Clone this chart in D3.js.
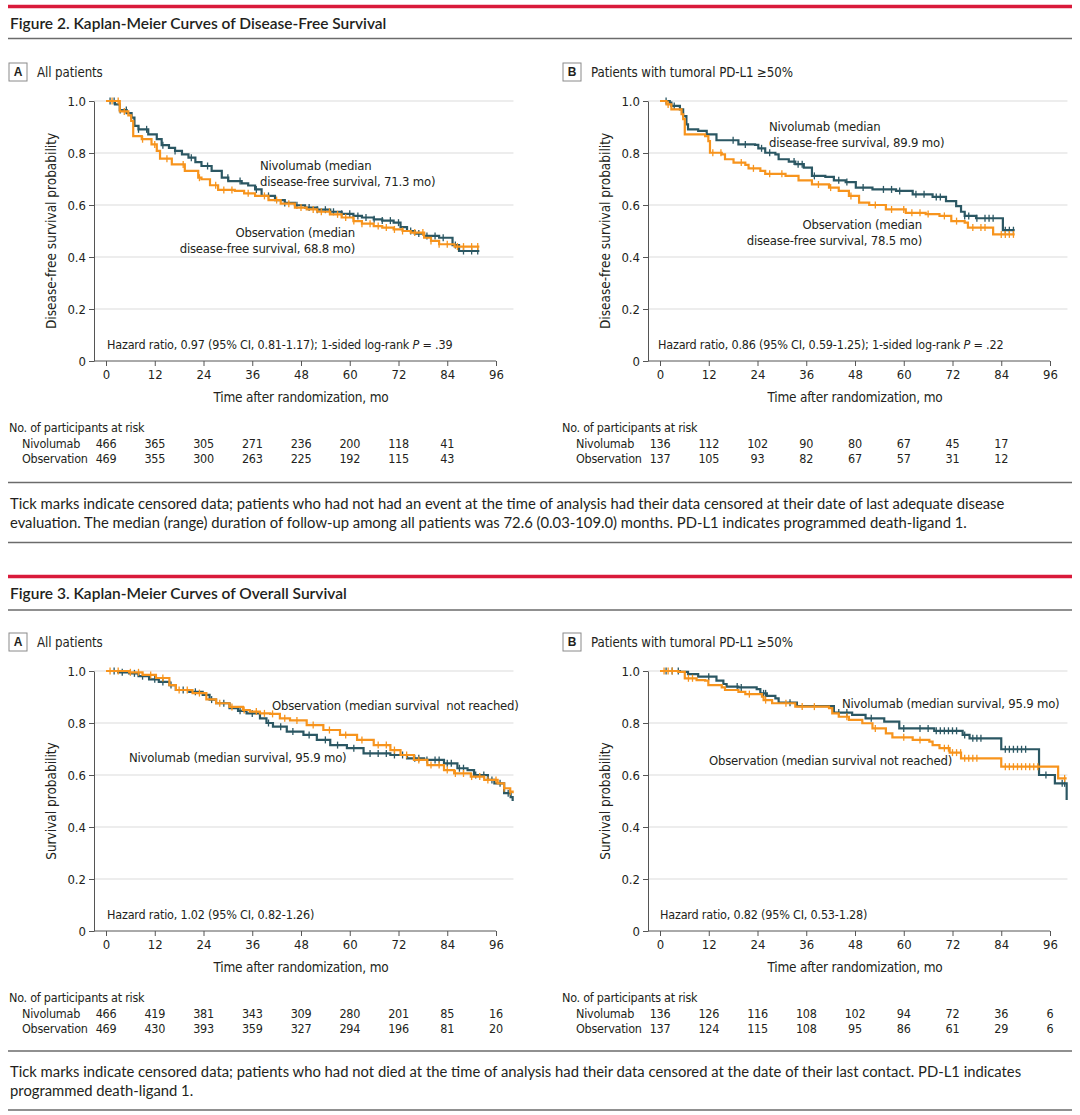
<!DOCTYPE html>
<html><head><meta charset="utf-8">
<script src="https://cdn.jsdelivr.net/npm/d3@7"></script>
<style>body{margin:0;background:#fff} svg{display:block}</style>
</head><body>
<svg id="c" width="1080" height="1115"></svg>
<script>
// ---------------- DATA ----------------
const xTicks = [0, 12, 24, 36, 48, 60, 72, 84, 96];
const yTicks = [0, 0.2, 0.4, 0.6, 0.8, 1.0];
const seriesNames = ["Nivolumab", "Observation"];

// Figure 2A – disease-free survival, all patients  [month, survival]
const dfsAllNivo = [[0,1],[2.2,0.987],[3.4,0.965],[5.1,0.953],[6.3,0.936],[7.0,0.904],[8.0,0.891],[10.4,0.872],[12.5,0.853],[13.7,0.83],[15.5,0.82],[17.0,0.808],[18.7,0.795],[20.3,0.782],[22,0.765],[23.5,0.75],[26.0,0.731],[28.5,0.705],[30.1,0.692],[33.4,0.683],[35,0.675],[36.7,0.66],[38.3,0.635],[41.6,0.619],[44,0.608],[46.5,0.599],[49.0,0.59],[52,0.582],[55.2,0.574],[58,0.566],[60.9,0.558],[63,0.552],[65.9,0.545],[68,0.54],[70.8,0.532],[72.5,0.515],[74.1,0.50],[76,0.49],[78.3,0.481],[82,0.474],[85.3,0.446],[86.9,0.423],[91.9,0.423]];
const dfsAllObs = [[0,1],[3.4,0.96],[5.5,0.945],[6.2,0.923],[6.7,0.865],[8.8,0.853],[11.2,0.833],[12.5,0.808],[13.3,0.778],[16.2,0.756],[19.4,0.731],[22.7,0.705],[23.5,0.699],[25.6,0.676],[27.6,0.658],[31.7,0.654],[34,0.645],[36.7,0.635],[40.0,0.619],[43,0.605],[46.5,0.59],[49.4,0.583],[52,0.574],[55.2,0.564],[58,0.552],[60.9,0.538],[63,0.528],[65.9,0.519],[68,0.513],[70.8,0.506],[73,0.5],[75.0,0.494],[78.3,0.474],[80,0.462],[82.0,0.449],[85.8,0.44],[91.9,0.44]];
const dfsAllNivoCens = [1,2,3.5,5,8,10,14,17,21,25,30,33,37,40,44,47,50,52,54,56,58,60,62,64,66,68,70,72,75,77,79,81,83,86,88,90,91.5];
const dfsAllObsCens = [1.5,3,4.5,9,12,15,19,23,27,29,31,35,39,42,45,48,51,53,55,57,59,61,63,65,67,69,71,73,76,78,80,82,84,86.5,88,90,91.5];

// Figure 2B – disease-free survival, PD-L1 >=50%
const dfsPdNivo = [[0,1],[2.4,0.994],[2.8,0.981],[4.9,0.968],[5.7,0.942],[6.5,0.910],[6.9,0.891],[9.4,0.885],[11.5,0.872],[13.9,0.849],[19.3,0.833],[23.4,0.831],[24.2,0.818],[25.9,0.801],[28.4,0.795],[29.2,0.776],[31.7,0.767],[33.3,0.757],[35.4,0.744],[37.4,0.712],[40.7,0.708],[42.8,0.695],[45.7,0.688],[48.2,0.667],[52.3,0.660],[58.1,0.654],[62.2,0.641],[67.1,0.631],[70.4,0.615],[72.9,0.596],[74.1,0.574],[75.0,0.558],[77.8,0.549],[84.4,0.503],[87.3,0.503]];
const dfsPdObs = [[0,1],[1.6,0.987],[2.8,0.968],[5.3,0.949],[5.7,0.930],[6.1,0.872],[11.1,0.865],[11.9,0.846],[12.3,0.801],[15.2,0.795],[16.0,0.776],[18.1,0.763],[21.0,0.754],[21.8,0.741],[24.7,0.731],[25.9,0.720],[30.9,0.712],[34.1,0.695],[37.4,0.679],[41.6,0.667],[44.0,0.654],[46.5,0.635],[49.0,0.609],[51.5,0.60],[55.6,0.583],[60.5,0.570],[65.4,0.565],[68.8,0.558],[71.7,0.538],[75.0,0.532],[75.8,0.513],[82.0,0.487],[87.3,0.487]];
const dfsPdNivoCens = [1.5,3.5,18,21,25,27,33,34,35,38,44,46,50,55,57,59,63,65,68,69,75,76,78,80,81,82,85,86,87];
const dfsPdObsCens = [2,13,15,20,23,27,30,39,42,47,53,57,60,62,64,66,70,73,77,79,80,84,85,86,87];

// Figure 3A – overall survival, all patients
const osAllNivo = [[0,1],[3,0.995],[5.7,0.991],[8,0.98],[10.6,0.968],[13,0.958],[15.6,0.946],[17.2,0.927],[20.5,0.920],[23.8,0.908],[25.5,0.89],[27.1,0.876],[30.4,0.857],[32.5,0.847],[34.6,0.837],[37.9,0.818],[39.5,0.80],[41.1,0.786],[44.5,0.767],[48.6,0.754],[51.9,0.735],[55.2,0.715],[59.3,0.703],[63.4,0.683],[70.0,0.677],[74.1,0.664],[78.3,0.658],[83.2,0.645],[86.5,0.626],[89.0,0.619],[90.6,0.60],[94.0,0.581],[95.6,0.568],[98.0,0.53],[99.6,0.515],[100.1,0.50]];
const osAllObs = [[0,1],[5.7,0.995],[9.0,0.985],[12.3,0.973],[15.6,0.946],[17.2,0.927],[21.3,0.915],[24.7,0.891],[27.1,0.876],[30.4,0.862],[33.7,0.850],[35.4,0.844],[37.9,0.837],[40.4,0.835],[42.8,0.818],[45.3,0.810],[49.4,0.792],[53.5,0.773],[57.6,0.754],[61.8,0.735],[65.9,0.715],[70.0,0.696],[72.5,0.677],[75.8,0.658],[79.1,0.638],[83.2,0.619],[85.7,0.606],[89.8,0.594],[93.1,0.581],[96.4,0.568],[98.0,0.549],[99.5,0.536],[100.1,0.53]];
const osAllNivoCens = [2,4,7,9,12,14,16,19,22,26,29,33,36,40,43,46,50,54,57,61,65,67,69,71,73,76,77,79,81,82,84,85,87,88,91,93,95,97,99];
const osAllObsCens = [1,3,6,8,11,14,18,20,23,28,31,34,37,39,41,44,47,51,55,59,63,67,69,71,74,77,80,82,84,86,88,90,92,94,96,98,99.5];

// Figure 3B – overall survival, PD-L1 >=50%
const osPdNivo = [[0,1],[4.9,0.997],[6.9,0.988],[9.4,0.978],[13.9,0.963],[15.6,0.950],[16.4,0.940],[19.3,0.937],[23.8,0.930],[24.7,0.914],[26.3,0.904],[28.4,0.895],[29.2,0.878],[33.7,0.865],[42.8,0.840],[47.3,0.831],[50.6,0.818],[55.2,0.805],[58.9,0.779],[67.5,0.770],[74.5,0.754],[76.2,0.741],[84.0,0.699],[93.3,0.60],[97.2,0.568],[100.1,0.504]];
const osPdObs = [[0,1],[4.5,0.997],[6.1,0.972],[9.0,0.965],[11.1,0.963],[11.9,0.946],[15.2,0.937],[16.0,0.927],[19.3,0.920],[21.0,0.911],[25.1,0.901],[25.5,0.888],[27.6,0.876],[33.3,0.863],[41.6,0.857],[42.4,0.837],[44.0,0.824],[46.5,0.812],[49.8,0.799],[52.3,0.779],[55.6,0.760],[57.2,0.745],[62.2,0.735],[66.3,0.728],[67.1,0.715],[68.8,0.703],[71.3,0.686],[74.1,0.664],[84.0,0.632],[98.0,0.587],[100.1,0.587]];
const osPdNivoCens = [1.5,3,4.5,12,19,20,25.5,26,32,44,46,52,60,64,66,68,69,70,71,72,73,75,77,78,79,85,86,87,88,89,90,95,99,99.6];
const osPdObsCens = [1,2,3,7,8,22,26,31,35,38,46,53,60,64,70,71,72,73,74,75,76,77,78,85,86,87,88,89,90,91,92,93,99.6];

// Numbers at risk
const riskDfsAllNivo = [466,365,305,271,236,200,118,41];
const riskDfsAllObs  = [469,355,300,263,225,192,115,43];
const riskDfsPdNivo  = [136,112,102,90,80,67,45,17];
const riskDfsPdObs   = [137,105,93,82,67,57,31,12];
const riskOsAllNivo  = [466,419,381,343,309,280,201,85,16];
const riskOsAllObs   = [469,430,393,359,327,294,196,81,20];
const riskOsPdNivo   = [136,126,116,108,102,94,72,36,6];
const riskOsPdObs    = [137,124,115,108,95,86,61,29,6];

// ---------------- DRAWING ----------------
const svg = d3.select("#c");
const CF = "'Liberation Sans Narrow','DejaVu Sans Condensed','Arial Narrow',sans-serif";
const TF = "Lato,'Open Sans',sans-serif";
const TEAL = "#2b5763", ORANGE = "#f7941d", RED = "#d91a3b", TXT = "#231f20";

function hline(y, color, w) {
  svg.append("line").attr("x1", 8).attr("x2", 1072).attr("y1", y).attr("y2", y)
    .attr("stroke", color).attr("stroke-width", w);
}
function txt(x, y, s, opt = {}) {
  return svg.append("text").attr("x", x).attr("y", y).text(s)
    .attr("font-family", opt.font || CF).attr("font-size", opt.size || 12.5)
    .attr("letter-spacing", opt.ls != null ? opt.ls : (opt.font ? 0 : -0.25))
    .attr("font-weight", opt.weight || "normal").attr("fill", opt.fill || TXT)
    .attr("text-anchor", opt.anchor || "start").attr("dominant-baseline", "central");
}

function panel(cfg) {
  const x = d3.scaleLinear().domain([0, 96]).range([cfg.x0, cfg.x0 + 390]);
  const y = d3.scaleLinear().domain([0, 1]).range([cfg.yBot, cfg.yBot - 260]);
  const axisX = cfg.x0 - 12;
  const g = svg.append("g");

  // panel label
  g.append("rect").attr("x", cfg.lx).attr("y", cfg.ly - 9).attr("width", 18).attr("height", 18)
    .attr("fill", "#fff").attr("stroke", "#8a8a8a").attr("stroke-width", 1);
  txt(cfg.lx + 9, cfg.ly, cfg.letter, {size: 12, weight: "bold", anchor: "middle", font: "'Liberation Sans',Arial,sans-serif"});
  txt(cfg.lx + 28, cfg.ly, cfg.title, {size: 13.2, ls: -0.1});

  // gridlines
  g.selectAll("line.grid").data(yTicks.filter(d => d > 0)).join("line").attr("class", "grid")
    .attr("x1", axisX).attr("x2", x(100.3)).attr("y1", d => y(d)).attr("y2", d => y(d))
    .attr("stroke", "#dcdcdc").attr("stroke-width", 1.2);

  // y axis
  const ya = g.append("g").attr("transform", `translate(${axisX},0)`)
    .call(d3.axisLeft(y).tickValues(yTicks).tickFormat(d => d === 0 ? "0" : d3.format(".1f")(d)).tickSize(5).tickPadding(3).tickSizeOuter(0));
  // x axis
  const xa = g.append("g").attr("transform", `translate(0,${cfg.yBot})`)
    .call(d3.axisBottom(x).tickValues(xTicks).tickSize(5).tickPadding(4).tickSizeOuter(0));
  xa.select(".domain").remove();
  g.append("line").attr("x1", axisX).attr("x2", x(96)).attr("y1", cfg.yBot).attr("y2", cfg.yBot).attr("stroke", "#555");
  [ya, xa].forEach(a => {
    a.selectAll("path,line").attr("stroke", "#555");
    a.selectAll("text").attr("font-family", CF).attr("font-size", 13).attr("fill", TXT);
  });

  // axis titles
  txt((x(0) + x(96)) / 2, cfg.yBot + 36, "Time after randomization, mo", {size: 13.5, ls: -0.2, anchor: "middle"});
  g.append("text").attr("transform", `translate(${axisX - 43},${cfg.yBot - 130}) rotate(-90)`)
    .text(cfg.yTitle).attr("font-family", CF).attr("font-size", 13.5).attr("fill", TXT)
    .attr("text-anchor", "middle").attr("dominant-baseline", "central");

  // curves
  const line = d3.line().x(d => x(d[0])).y(d => y(d[1])).curve(d3.curveStepAfter);
  const bis = d3.bisector(d => d[0]).right;
  cfg.series.forEach(s => {
    g.append("path").datum(s.data).attr("d", line).attr("fill", "none")
      .attr("stroke", s.color).attr("stroke-width", 2.2).attr("stroke-linejoin", "miter");
    g.selectAll(null).data(s.cens).join("line")
      .attr("x1", t => x(t)).attr("x2", t => x(t))
      .attr("y1", t => y(s.data[Math.max(0, bis(s.data, t) - 1)][1]) - 3.5)
      .attr("y2", t => y(s.data[Math.max(0, bis(s.data, t) - 1)][1]) + 3.5)
      .attr("stroke", s.color).attr("stroke-width", 1.3);
  });

  // annotations
  cfg.notes.forEach(n => {
    n.lines.forEach((l, i) => txt(cfg.x0 + n.dx, cfg.yBot - 260 + n.dy + i * 16.5, l, {size: 13, ls: -0.2, anchor: n.anchor}));
  });
  // hazard ratio
  const hr = txt(cfg.x0 + cfg.hrDx, cfg.yBot - 17, cfg.hr[0], {size: 12.5, ls: -0.2});
  if (cfg.hr.length > 1) {
    hr.append("tspan").text("P").attr("font-style", "italic");
    hr.append("tspan").text(cfg.hr[1]);
  }

  // risk table
  txt(cfg.rx, cfg.yBot + 66, "No. of participants at risk", {size: 12.5});
  [cfg.risk[0], cfg.risk[1]].forEach((row, i) => {
    txt(cfg.rx + cfg.rlx, cfg.yBot + 82 + i * 15.5, seriesNames[i], {size: 12.5});
    row.forEach((v, j) => txt(x(xTicks[j]), cfg.yBot + 82 + i * 15.5, v, {size: 12.5, anchor: "middle"}));
  });
}

// ---- Figure 2 ----
hline(6.5, RED, 3.5);
txt(10, 23, "Figure 2. Kaplan-Meier Curves of Disease-Free Survival", {font: TF, size: 15.5, weight: 600});
hline(38.5, "#6b6b6b", 1.5);

panel({x0: 106, yBot: 361, lx: 9, ly: 72, letter: "A", title: "All patients",
  yTitle: "Disease-free survival probability", rx: 9, rlx: 13,
  series: [{data: dfsAllNivo, cens: dfsAllNivoCens, color: TEAL}, {data: dfsAllObs, cens: dfsAllObsCens, color: ORANGE}],
  notes: [{lines: ["Nivolumab (median", "disease-free survival, 71.3 mo)"], dx: 154, dy: 64, anchor: "start"},
          {lines: ["Observation (median", "disease-free survival, 68.8 mo)"], dx: 249, dy: 131, anchor: "end"}],
  hrDx: 1, hr: ["Hazard ratio, 0.97 (95% CI, 0.81-1.17); 1-sided log-rank ", " = .39"],
  risk: [riskDfsAllNivo, riskDfsAllObs]});

panel({x0: 660, yBot: 361, lx: 563, ly: 72, letter: "B", title: "Patients with tumoral PD-L1 \u226550%",
  yTitle: "Disease-free survival probability", rx: 562, rlx: 14,
  series: [{data: dfsPdNivo, cens: dfsPdNivoCens, color: TEAL}, {data: dfsPdObs, cens: dfsPdObsCens, color: ORANGE}],
  notes: [{lines: ["Nivolumab (median", "disease-free survival, 89.9 mo)"], dx: 109, dy: 25, anchor: "start"},
          {lines: ["Observation (median", "disease-free survival, 78.5 mo)"], dx: 262, dy: 123, anchor: "end"}],
  hrDx: -2, hr: ["Hazard ratio, 0.86 (95% CI, 0.59-1.25); 1-sided log-rank ", " = .22"],
  risk: [riskDfsPdNivo, riskDfsPdObs]});

hline(482.5, "#6b6b6b", 1.5);
txt(10, 503, "Tick marks indicate censored data; patients who had not had an event at the time of analysis had their data censored at their date of last adequate disease", {font: TF, size: 14.8});
txt(10, 522, "evaluation. The median (range) duration of follow-up among all patients was 72.6 (0.03-109.0) months. PD-L1 indicates programmed death-ligand 1.", {font: TF, size: 14.8});
hline(542.5, "#6b6b6b", 1.5);

// ---- Figure 3 ----
hline(576.5, RED, 3.5);
txt(10, 593, "Figure 3. Kaplan-Meier Curves of Overall Survival", {font: TF, size: 15.5, weight: 600});
hline(610, "#6b6b6b", 1.5);

panel({x0: 106, yBot: 931, lx: 9, ly: 642, letter: "A", title: "All patients",
  yTitle: "Survival probability", rx: 9, rlx: 13,
  series: [{data: osAllNivo, cens: osAllNivoCens, color: TEAL}, {data: osAllObs, cens: osAllObsCens, color: ORANGE}],
  notes: [{lines: ["Observation (median survival\u00a0 not reached)"], dx: 166, dy: 34, anchor: "start"},
          {lines: ["Nivolumab (median survival, 95.9 mo)"], dx: 23, dy: 86, anchor: "start"}],
  hrDx: 1, hr: ["Hazard ratio, 1.02 (95% CI, 0.82-1.26)"],
  risk: [riskOsAllNivo, riskOsAllObs]});

panel({x0: 660, yBot: 931, lx: 563, ly: 642, letter: "B", title: "Patients with tumoral PD-L1 \u226550%",
  yTitle: "Survival probability", rx: 562, rlx: 14,
  series: [{data: osPdNivo, cens: osPdNivoCens, color: TEAL}, {data: osPdObs, cens: osPdObsCens, color: ORANGE}],
  notes: [{lines: ["Nivolumab (median survival, 95.9 mo)"], dx: 182, dy: 32, anchor: "start"},
          {lines: ["Observation (median survival not reached)"], dx: 49, dy: 89, anchor: "start"}],
  hrDx: 0, hr: ["Hazard ratio, 0.82 (95% CI, 0.53-1.28)"],
  risk: [riskOsPdNivo, riskOsPdObs]});

hline(1051, "#6b6b6b", 1.5);
txt(10, 1071, "Tick marks indicate censored data; patients who had not died at the time of analysis had their data censored at the date of their last contact. PD-L1 indicates", {font: TF, size: 14.8});
txt(10, 1090, "programmed death-ligand 1.", {font: TF, size: 14.8});
hline(1110, "#6b6b6b", 1.5);
</script>
</body></html>
